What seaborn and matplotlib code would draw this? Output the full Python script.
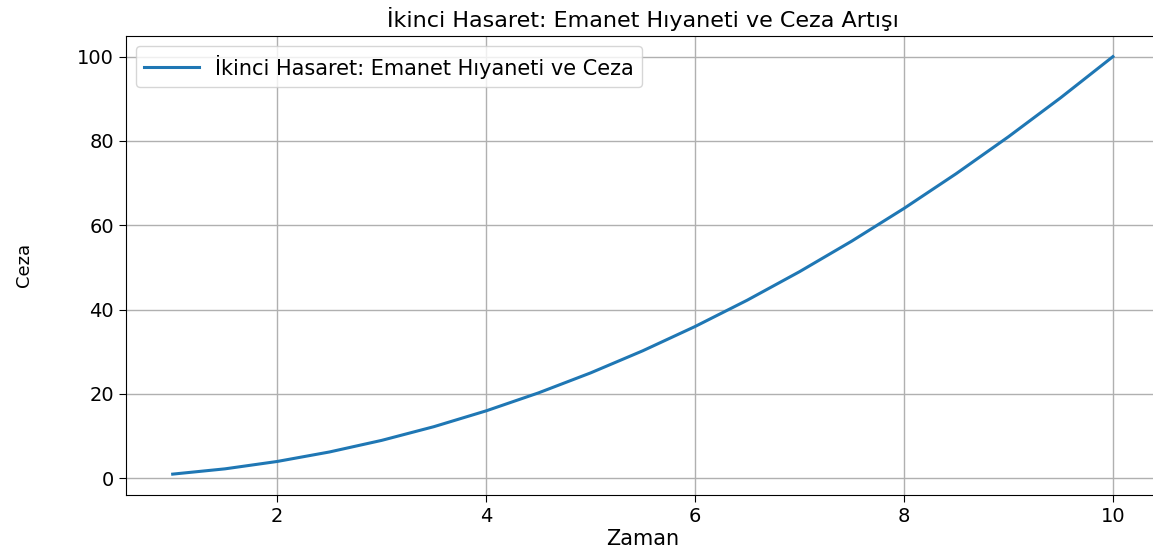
import pandas as pd
import matplotlib
matplotlib.use('Agg')
import matplotlib.pyplot as plt
import seaborn as sn

# values
zaman = [1, 1.5, 2, 2.5, 3, 3.5, 4, 4.5, 5, 5.5, 6, 6.5, 7, 7.5, 8, 8.5, 9, 9.5, 10]
ceza = [1, 2.25, 4, 6.25, 9, 12.25, 16, 20.25, 25, 30.25, 36, 42.25, 49, 56.25, 64, 72.25, 81, 90.25, 100]

title = 'İkinci Hasaret: Emanet Hıyaneti ve Ceza Artışı'
label = 'İkinci Hasaret: Emanet Hıyaneti ve Ceza'

data = pd.DataFrame({'Zaman': zaman, 'Ceza': ceza})

plt.rcParams['font.family'] = ['DejaVu Sans']
fig = plt.figure(figsize=(11.53, 5.5), dpi=100)
# right spine falls just outside the picture, as in the original crop
ax = fig.add_axes([0.109, 0.1, 0.897, 0.835])

sn.lineplot(data=data, x='Zaman', y='Ceza', color='#1f77b4', lw=2.2, label=label, ax=ax)

ax.set_title(title, fontsize=16, pad=6)
ax.set_xlabel('Zaman', fontsize=15, labelpad=2)
ax.set_ylabel('Ceza', fontsize=13, labelpad=32)
ax.tick_params(labelsize=14, length=5)
ax.set_xticks([2, 4, 6, 8, 10])
ax.set_yticks([0, 20, 40, 60, 80, 100])
ax.spines['right'].set_visible(False)
ax.grid(True, color='#b0b0b0', lw=1.0)
ax.legend(loc='upper left', fontsize=15, handlelength=2.6)

plt.savefig('out.png', dpi=100)
